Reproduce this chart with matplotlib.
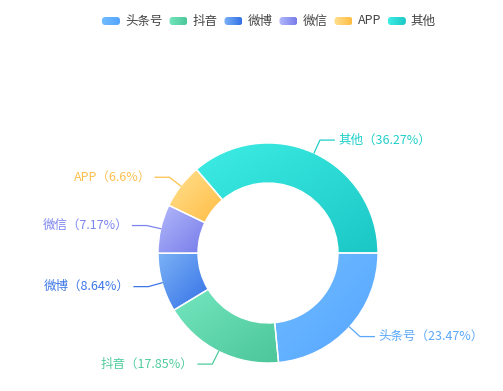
import numpy as np
import matplotlib.pyplot as plt
from matplotlib.colors import LinearSegmentedColormap
from matplotlib.patches import FancyBboxPatch

plt.rcParams['font.family'] = ['Noto Sans CJK SC', 'DejaVu Sans']

# data
categories = ['头条号', '抖音', '微博', '微信', 'APP', '其他']
shares = [23.47, 17.85, 8.64, 7.17, 6.6, 36.27]

# colours (gradient start / end, label colour)
light = ['#70bdff', '#74e6bf', '#7cb2f6', '#b3b9fb', '#ffe192', '#3eede5']
dark = ['#55a4ff', '#4cc69a', '#3370e6', '#777ce9', '#ffbc42', '#1bc7c5']
label_colors = ['#5ba8fb', '#4fcc9c', '#3c77e6', '#7c84ee', '#fdc04c', '#20cfc9']

W, H = 503, 391
fig = plt.figure(figsize=(W / 100, H / 100), dpi=100)

cx, cy, R, r_in = 268, 253, 110, 70
ax = fig.add_axes([(cx - R) / W, (H - cy - R) / H, 2 * R / W, 2 * R / H])
wedges, _ = ax.pie(shares, radius=1, startangle=0, counterclock=False,
                   wedgeprops=dict(width=(R - r_in) / R, edgecolor='white', linewidth=1))

grad = np.add.outer(np.linspace(0, 1, 200), np.linspace(0, 1, 200)) / 2
for w, c0, c1 in zip(wedges, light, dark):
    bb = w.get_path().get_extents()
    cmap = LinearSegmentedColormap.from_list('g', [c0, c1])
    im = ax.imshow(grad, cmap=cmap, extent=(bb.x0, bb.x1, bb.y0, bb.y1),
                   origin='upper', interpolation='bilinear', zorder=1)
    im.set_clip_path(w)
    w.set_facecolor('none')
    w.set_zorder(2)

# labels with leader lines
for w, cat, s, col in zip(wedges, categories, shares, label_colors):
    ang = np.deg2rad((w.theta1 + w.theta2) / 2)
    x0, y0 = np.cos(ang), np.sin(ang)
    x1, y1 = 1.13 * x0, 1.13 * y0
    side = 1 if x0 >= 0 else -1
    x2 = x1 + side * 0.13
    ax.plot([x0, x1, x2], [y0, y1, y1], color=col, lw=0.9, clip_on=False, zorder=3)
    ax.text(x2 + side * 0.04, y1, f'{cat}（{s}%）', color=col, fontsize=9,
            ha='left' if side > 0 else 'right', va='center', clip_on=False)

ax.set_xlim(-1, 1)
ax.set_ylim(-1, 1)
ax.set_aspect('equal')
ax.axis('off')

# legend in pixel coordinates
lax = fig.add_axes([0, 0, 1, 1])
lax.set_xlim(0, W)
lax.set_ylim(H, 0)
lax.axis('off')
renderer = fig.canvas.get_renderer()
hgrad = np.tile(np.linspace(0, 1, 100), (10, 1))
x = 102
ly = 21
for cat, c0, c1 in zip(categories, light, dark):
    box = FancyBboxPatch((x, ly - 4), 18, 8, boxstyle='round,pad=0,rounding_size=3',
                         facecolor='none', edgecolor='none')
    lax.add_patch(box)
    cmap = LinearSegmentedColormap.from_list('g', [c0, c1])
    im = lax.imshow(hgrad, cmap=cmap, extent=(x, x + 18, ly + 4, ly - 4),
                    interpolation='bilinear', aspect='auto')
    im.set_clip_path(box)
    t = lax.text(x + 23, ly, cat, fontsize=9, color='#444444', va='center', ha='left')
    tw = t.get_window_extent(renderer).width
    x = x + 23 + tw + 7
lax.set_xlim(0, W)
lax.set_ylim(H, 0)

fig.savefig('out.png', dpi=100)
